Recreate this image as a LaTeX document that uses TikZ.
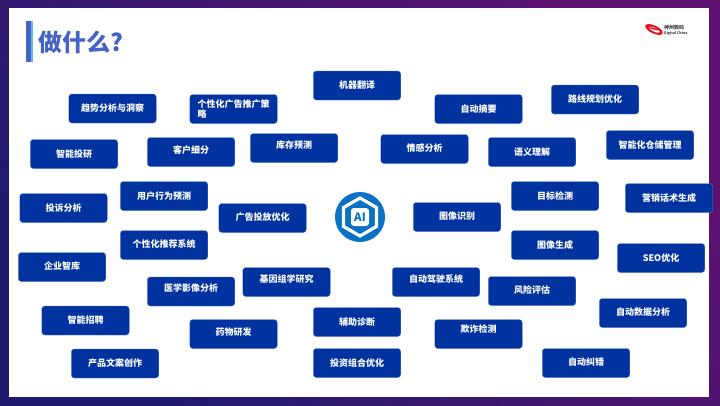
\documentclass[tikz,border=0pt]{standalone}
\usepackage{fontspec}
\setmainfont{Noto Sans CJK SC}
\usepackage{xcolor}
\usetikzlibrary{shapes.geometric, calc}

\definecolor{frameNavy}{HTML}{1E1A6E}
\definecolor{framePurple}{HTML}{5E1270}
\definecolor{titleBlue}{HTML}{4463C4}
\definecolor{barSky}{HTML}{5CB8F2}
\definecolor{taskBlue}{HTML}{0033A0}
\definecolor{aiBlue}{HTML}{0A72C4}
\definecolor{logoRed}{HTML}{E2141C}

\tikzset{
  taskbox/.style={fill=taskBlue, draw=taskBlue!60!white, line width=0.3pt, rounded corners=3pt,
    minimum width=87.5pt, minimum height=29pt, text=white, font=\fontsize{9}{10.5}\selectfont\bfseries, inner sep=0pt, align=center},
}

\begin{document}
\begin{tikzpicture}[x=1pt, y=-1pt]
\useasboundingbox (0,0) rectangle (720,405);

% -- Frame and page ---------------------------------------------------------
\shade[top color=framePurple, middle color=frameNavy, bottom color=frameNavy, shading angle=-50]
  (0,0) rectangle (720,405);
\fill[white] (8.5,8) rectangle (708.5,397);

% -- Title ------------------------------------------------------------------
\fill[titleBlue] (26,21) rectangle (30.5,62);
\fill[barSky] (30.5,21) rectangle (33,62);
\node[text=titleBlue, font=\fontsize{24}{26}\selectfont\bfseries, anchor=west, inner sep=0pt] (title) at (38,42) {做什么?};

% -- Logo -------------------------------------------------------------------
\begin{scope}[shift={(654,29.5)}, rotate=-25]
  \fill[logoRed, even odd rule] (0,0) ellipse (9.5pt and 4pt) (0.5,0) ellipse (6pt and 2pt);
  \fill[logoRed] (-4,-0.8) -- (4,-2) -- (4,-0.6) -- (-4,0.8) -- cycle;
\end{scope}
\node[text=black!75, font=\fontsize{5}{5}\selectfont\bfseries, anchor=west, inner sep=0pt] (logoname) at (664,28) {神州数码};
\node[text=black!75, font=\fontsize{3.6}{4}\selectfont\bfseries, anchor=west, inner sep=0pt] (logosub) at (664,33.5) {Digital China};

% -- Centre icon ------------------------------------------------------------
\fill[aiBlue] (360,217) circle (25pt);
\node[regular polygon, regular polygon sides=6, shape border rotate=30, draw=white, line width=3.2pt, minimum size=38pt, inner sep=0pt] (aihex) at (360,217) {};
\node[fill=white, rounded corners=3pt, minimum width=18pt, minimum height=18pt, inner sep=0pt, text=aiBlue, font=\fontsize{11.5}{12}\selectfont\bfseries] (ailabel) at (360,217) {AI};

% -- Task boxes, left side --------------------------------------------------
\node[taskbox] (trend) at (112.5,108.5) {\raisebox{2pt}{趋势分析与洞察}};
\node[taskbox, align=left] (adpush) at (233.5,109) {个性化广告推广策\\略};
\node[taskbox] (invest) at (74,154) {智能投研};
\node[taskbox] (segment) at (191,152) {\raisebox{4pt}{客户细分}};
\node[taskbox] (stock) at (294,148) {\raisebox{6pt}{库存预测}};
\node[taskbox] (complaint) at (63.5,208) {投诉分析};
\node[taskbox] (behaviour) at (164,196) {用户行为预测};
\node[taskbox] (adplace) at (262.5,218) {\raisebox{2pt}{广告投放优化}};
\node[taskbox] (recommend) at (164,245) {\raisebox{2pt}{个性化推荐系统}};
\node[taskbox] (thinktank) at (62,267) {\raisebox{2pt}{企业智库}};
\node[taskbox] (medimage) at (191,291.5) {\raisebox{8pt}{医学影像分析}};
\node[taskbox] (genome) at (286.5,282) {\raisebox{6pt}{基因组学研究}};
\node[taskbox] (hiring) at (85.5,320.5) {智能招聘};
\node[taskbox] (drug) at (233.5,334) {\raisebox{4pt}{药物研发}};
\node[taskbox] (copywrite) at (115,363.5) {\raisebox{2pt}{产品文案创作}};

% -- Task boxes, middle -----------------------------------------------------
\node[taskbox] (translate) at (357,85.5) {机器翻译};
\node[taskbox] (diagnose) at (357,322) {辅助诊断};
\node[taskbox] (portfolio) at (357,363) {投资组合优化};

% -- Task boxes, right side -------------------------------------------------
\node[taskbox] (summary) at (478.5,109) {自动摘要};
\node[taskbox] (route) at (595,99.5) {路线规划优化};
\node[taskbox] (sentiment) at (424.5,149) {\raisebox{2pt}{情感分析}};
\node[taskbox] (semantic) at (532,152) {语义理解};
\node[taskbox] (warehouse) at (650,145) {智能化仓储管理};
\node[taskbox] (imgrecog) at (457,217) {\raisebox{2pt}{图像识别}};
\node[taskbox] (detect) at (555,196) {目标检测};
\node[taskbox] (sales) at (669,198) {营销话术生成};
\node[taskbox] (imggen) at (555,245) {图像生成};
\node[taskbox] (seo) at (661,258) {SEO优化};
\node[taskbox] (driving) at (436,282) {\raisebox{6pt}{自动驾驶系统}};
\node[taskbox] (risk) at (532,291) {\raisebox{2pt}{风险评估}};
\node[taskbox] (dataana) at (643,313) {\raisebox{2pt}{自动数据分析}};
\node[taskbox] (fraud) at (478.5,334) {\raisebox{10pt}{欺诈检测}};
\node[taskbox] (correct) at (586,363) {\raisebox{2pt}{自动纠错}};

\end{tikzpicture}
\end{document}
